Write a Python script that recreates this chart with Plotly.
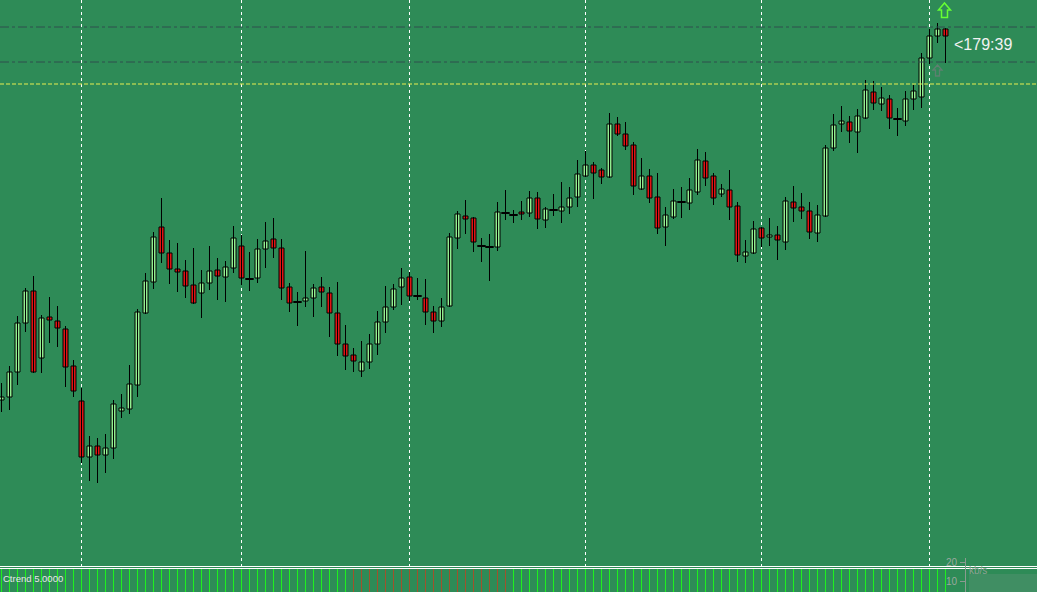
import plotly.graph_objects as go

# ---- data (price units) ----
bar_index = list(range(119))
open_ = [100,103,128,177,209,142,183,179,171,134,99,43,54,45,52,89,91,115,187,218,
         273,247,231,229,215,207,217,230,223,232,254,221,222,251,261,252,213,198,199,202,
         213,207,187,156,145,129,138,156,178,193,213,223,204,202,188,179,194,262,284,282,
         254,253,253,287,285,288,287,302,280,290,289,293,303,324,335,330,323,376,366,355,
         311,324,303,273,283,298,297,308,339,324,306,310,294,244,247,272,263,265,258,298,
         293,289,267,284,352,376,378,368,382,408,396,401,381,379,401,403,442,464,471]
high = [117,134,184,212,224,185,203,194,174,140,112,64,62,66,100,106,135,191,227,268,
        302,260,257,240,252,230,254,242,239,274,265,248,261,278,282,261,217,208,249,216,
        223,213,218,175,152,159,166,189,214,216,232,228,222,221,194,202,267,289,300,283,
        262,266,298,310,290,299,309,308,293,306,318,313,340,349,338,332,387,383,378,358,
        342,331,327,293,311,313,322,351,348,327,316,330,298,260,279,273,282,274,303,314,
        307,298,295,355,386,394,384,391,420,419,413,405,392,409,415,447,471,477,472]
low = [88,90,115,168,127,127,157,153,113,103,37,19,17,27,41,82,86,103,186,211,
       237,216,208,202,196,182,210,200,198,227,215,209,217,232,242,200,188,174,193,183,
       193,163,144,130,128,123,131,145,167,190,195,199,200,175,167,173,193,251,266,248,
       238,219,249,280,277,280,283,271,272,284,277,286,293,323,301,316,322,364,350,305,
       310,297,266,254,281,282,290,305,314,295,303,280,238,237,246,253,254,240,250,278,
       281,261,258,283,349,368,357,347,381,390,389,371,364,374,390,392,436,457,437]
close = [103,128,177,209,128,182,180,172,133,109,43,54,45,52,96,92,116,188,219,263,
         247,231,228,214,197,217,229,224,233,262,222,221,251,259,252,212,197,198,202,212,
         208,187,156,144,139,138,156,178,193,211,222,204,204,188,179,193,263,286,281,258,
         254,253,288,287,285,286,302,281,291,290,293,302,326,335,327,323,376,366,354,314,
         324,302,272,285,299,298,310,340,322,302,311,293,245,248,271,262,265,260,299,292,
         289,268,285,352,375,379,369,384,410,397,402,382,381,401,409,442,464,471,464]

grid_bars = [10, 30, 51, 73, 95, 116]          # vertical separators (period starts)
trend_down_bars = list(range(44, 64))          # Ctrend histogram bars in brown
level_lines = [473, 438]                       # dash-dot horizontal levels
yellow_level = 416                             # yellow dashed level
timer_text = "<179:39"
indicator_label = "Ctrend 5.0000"
net_labels = ["20", "10"]

# ---- geometry helpers ----
W, H = 1037, 592
MAIN_BOTTOM_PX = 566
SUB_TOP_PX = 569
BG = "#2E8B57"
BULL = "#90EE90"
BEAR = "#E01414"
TREND_UP = "#1EF01E"
TREND_DOWN = "#A0522D"


def px_x(p):
    return p / W


def px_y(p):
    return 1 - p / H


fig = go.Figure()

# wicks
wx, wy = [], []
for i, h, l in zip(bar_index, high, low):
    wx += [i, i, None]
    wy += [l, h, None]
fig.add_trace(go.Scatter(x=wx, y=wy, mode="lines", line=dict(color="black", width=1),
                         hoverinfo="skip", showlegend=False))

# bodies
bull_x, bull_base, bull_h = [], [], []
bear_x, bear_base, bear_h = [], [], []
doji_x, doji_y = [], []
for i, o, c in zip(bar_index, open_, close):
    if c > o:
        bull_x.append(i); bull_base.append(o); bull_h.append(c - o)
    elif c < o:
        bear_x.append(i); bear_base.append(c); bear_h.append(o - c)
    else:
        doji_x.append(i); doji_y.append(o)

fig.add_trace(go.Bar(x=bull_x, y=bull_h, base=bull_base, width=0.625,
                     marker=dict(color=BULL, line=dict(color="black", width=1)),
                     hoverinfo="skip", showlegend=False))
fig.add_trace(go.Bar(x=bear_x, y=bear_h, base=bear_base, width=0.625,
                     marker=dict(color=BEAR, line=dict(color="black", width=1)),
                     hoverinfo="skip", showlegend=False))
fig.add_trace(go.Scatter(x=doji_x, y=doji_y, mode="markers",
                         marker=dict(symbol="line-ew", size=6,
                                     line=dict(color="black", width=2)),
                         hoverinfo="skip", showlegend=False))

# horizontal levels
for lv in level_lines:
    fig.add_shape(type="line", xref="paper", x0=0, x1=1, yref="y", y0=lv, y1=lv,
                  line=dict(color="#2F4F4F", width=1, dash="dashdot"))
fig.add_shape(type="line", xref="paper", x0=0, x1=1, yref="y", y0=yellow_level, y1=yellow_level,
              line=dict(color="#E8EE50", width=1, dash="4px,2px"))

# sub-window histogram (thin 1px bars)
trend_colors = [TREND_DOWN if i in trend_down_bars else TREND_UP for i in bar_index]
fig.add_trace(go.Bar(x=bar_index, y=[1] * len(bar_index), base=0, width=0.125,
                     marker=dict(color=trend_colors, line=dict(width=0)),
                     xaxis="x2", yaxis="y2", hoverinfo="skip", showlegend=False))

# separator lines between windows
for p in (566.5, 568.5):
    fig.add_shape(type="line", xref="paper", yref="paper", x0=0, x1=1,
                  y0=px_y(p), y1=px_y(p), line=dict(color="white", width=1))

# arrows
def arrow_path(x0, x1, ytop, yhead, ybot, sx0, sx1):
    pts = [(x0, yhead), ((x0 + x1) / 2, ytop), (x1, yhead), (sx1, yhead),
           (sx1, ybot), (sx0, ybot), (sx0, yhead)]
    s = "M " + " L ".join(f"{px_x(a):.5f},{px_y(b):.5f}" for a, b in pts) + " Z"
    return s

fig.add_shape(type="path", xref="paper", yref="paper",
              path=arrow_path(938.5, 950.5, 3, 10, 17.5, 941.5, 947.5),
              line=dict(color="#66FF33", width=1.5))
fig.add_shape(type="path", xref="paper", yref="paper",
              path=arrow_path(933, 942, 65, 70, 76, 935.5, 939.5),
              line=dict(color="#5E8070", width=1.3))

# network status overlay (bottom right)
fig.add_shape(type="rect", xref="paper", yref="paper", x0=px_x(969), x1=1,
              y0=px_y(592), y1=px_y(574), fillcolor="rgba(160,160,160,0.16)", line=dict(width=0))
fig.add_shape(type="line", xref="paper", yref="paper", x0=px_x(965.5), x1=px_x(965.5),
              y0=px_y(558), y1=px_y(592), line=dict(color="#8A9A90", width=1))
for ty in (562.5, 581.5):
    fig.add_shape(type="line", xref="paper", yref="paper", x0=px_x(960), x1=px_x(966),
                  y0=px_y(ty), y1=px_y(ty), line=dict(color="#8A9A90", width=1))

annotations = [
    dict(text=timer_text, x=px_x(951.5), y=px_y(45), xanchor="left", yanchor="middle",
         font=dict(family="Liberation Sans, Arial", size=16, color="#F2F2F2")),
    dict(text=indicator_label, x=px_x(1), y=px_y(578), xanchor="left", yanchor="middle",
         font=dict(family="Liberation Sans, Arial", size=9.5, color="#E8E8E8")),
    dict(text=net_labels[0], x=px_x(944), y=px_y(562), xanchor="left", yanchor="middle",
         font=dict(family="Liberation Sans, Arial", size=10, color="#9AA89F")),
    dict(text=net_labels[1], x=px_x(944), y=px_y(581), xanchor="left", yanchor="middle",
         font=dict(family="Liberation Sans, Arial", size=10, color="#9AA89F")),
    dict(text="kb/s", x=px_x(967), y=px_y(570), xanchor="left", yanchor="middle",
         font=dict(family="Liberation Sans, Arial", size=10, color="#8FA094")),
]
for a in annotations:
    a.update(xref="paper", yref="paper", showarrow=False)

xr = [-0.1875, 129.4375]
fig.update_layout(
    width=W, height=H, margin=dict(l=0, r=0, t=0, b=0),
    paper_bgcolor=BG, plot_bgcolor=BG, barmode="overlay", showlegend=False,
    hovermode=False, annotations=annotations,
    xaxis=dict(range=xr, tickvals=grid_bars, showticklabels=False, ticks="",
               showgrid=True, gridcolor="white", gridwidth=1, griddash="3px,3px",
               zeroline=False, showline=False, anchor="y", fixedrange=True),
    yaxis=dict(range=[-66, 500], domain=[px_y(MAIN_BOTTOM_PX), 1], showgrid=False,
               showticklabels=False, zeroline=False, showline=False, ticks="", fixedrange=True),
    xaxis2=dict(range=xr, matches="x", anchor="y2", showgrid=False, showticklabels=False,
                zeroline=False, showline=False, ticks="", fixedrange=True),
    yaxis2=dict(range=[0, 1], domain=[0, px_y(SUB_TOP_PX)], showgrid=False,
                showticklabels=False, zeroline=False, showline=False, ticks="", fixedrange=True),
)

fig.write_html("out.html", config=dict(displayModeBar=False, staticPlot=True),
               post_script="document.body.style.margin='0';document.body.style.background='" + BG + "';")
